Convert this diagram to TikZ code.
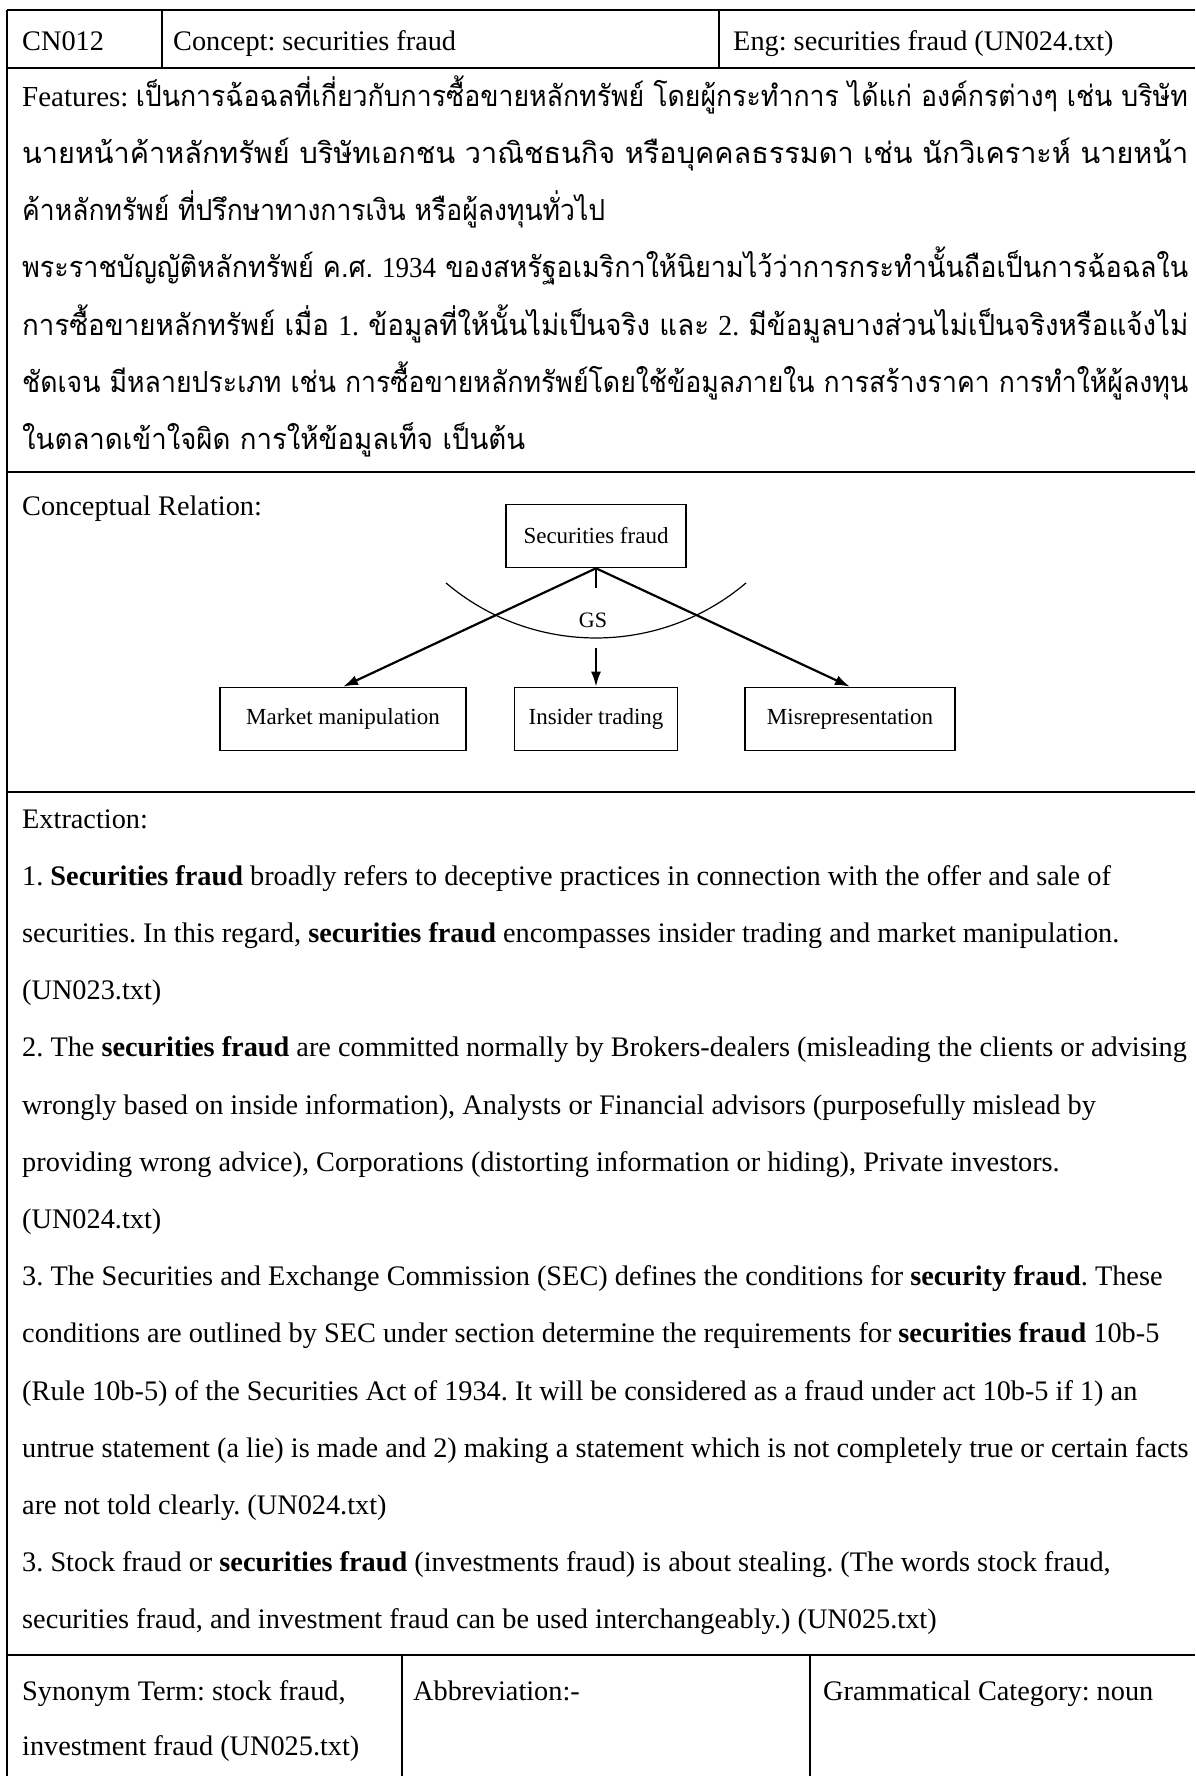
\documentclass[tikz,border=0pt]{standalone}
\usepackage{fontspec}
\usepackage{graphicx}
\setmainfont{Liberation Serif}
\newfontfamily\thaifont[Script=Thai]{Loma}
\usetikzlibrary{arrows.meta}
% stretch or squeeze one line of text to a given width, keeping its height
\newcommand\fitw[2]{\resizebox{#1}{\height}{#2}}
\newcommand\lat[1]{{\rmfamily #1}}
\frenchspacing
\begin{document}
\begin{tikzpicture}[x=1pt,y=-1pt,
  rule/.style={line width=2.6pt},
  txt/.style={anchor=base west, inner sep=0pt, font=\fontsize{28.3}{34}\selectfont},
  thai/.style={anchor=base west, inner sep=0pt, font=\fontsize{29}{34}\selectfont\thaifont},
  cbox/.style={draw, line width=1.6pt, minimum height=63pt, inner sep=0pt,
    font=\fontsize{23}{26}\selectfont},
  link/.style={line width=2.2pt, -{Latex[length=15pt,width=10pt]}},
  plain/.style={line width=2.2pt},
  gsarc/.style={line width=1.2pt},
]
\useasboundingbox (0,0) rectangle (1195,1776);
\fill[white] (0,0) rectangle (1195,1776);

% ---- table frame ----
\draw[rule] (7,10) -- (1195,10);
\draw[rule] (7,10) -- (7,1776);
\draw[rule] (7,68) -- (1195,68);
\draw[rule] (7,472) -- (1195,472);
\draw[rule] (7,792) -- (1195,792);
\draw[rule] (7,1655) -- (1195,1655);
\draw[rule] (162,10) -- (162,68);
\draw[rule] (719,10) -- (719,68);
\draw[rule] (402,1655) -- (402,1776);
\draw[rule] (810,1655) -- (810,1776);

% ---- header row ----
\node[txt] (id) at (22,51) {CN012};
\node[txt] (concept) at (173,51) {Concept: securities fraud};
\node[txt] (eng) at (733,51) {Eng: securities fraud (UN024.txt)};

% ---- features (Thai) ----
\node[thai] (f1) at (22,107) {\lat{Features: }\fitw{1052pt}{เป็นการฉ้อฉลที่เกี่ยวกับการซื้อขายหลักทรัพย์ โดยผู้กระทำการ ได้แก่ องค์กรต่างๆ เช่น บริษัท}};
\node[thai] (f2) at (22,164) {\fitw{1166pt}{นายหน้าค้าหลักทรัพย์ บริษัทเอกชน วาณิชธนกิจ หรือบุคคลธรรมดา เช่น นักวิเคราะห์ นายหน้า}};
\node[thai] (f3) at (22,221) {\fitw{583pt}{ค้าหลักทรัพย์ ที่ปรึกษาทางการเงิน หรือผู้ลงทุนทั่วไป}};
\node[thai] (f4) at (22,278) {\fitw{1166pt}{พระราชบัญญัติหลักทรัพย์ ค.ศ. \lat{1934} ของสหรัฐอเมริกาให้นิยามไว้ว่าการกระทำนั้นถือเป็นการฉ้อฉลใน}};
\node[thai] (f5) at (22,335) {\fitw{1166pt}{การซื้อขายหลักทรัพย์ เมื่อ \lat{1.} ข้อมูลที่ให้นั้นไม่เป็นจริง และ \lat{2.} มีข้อมูลบางส่วนไม่เป็นจริงหรือแจ้งไม่}};
\node[thai] (f6) at (22,392) {\fitw{1166pt}{ชัดเจน มีหลายประเภท เช่น การซื้อขายหลักทรัพย์โดยใช้ข้อมูลภายใน การสร้างราคา การทำให้ผู้ลงทุน}};
\node[thai] (f7) at (22,449) {\fitw{503pt}{ในตลาดเข้าใจผิด การให้ข้อมูลเท็จ เป็นต้น}};

% ---- conceptual relation ----
\node[txt] (crel) at (22,515) {Conceptual Relation:};
\node[cbox, minimum width=180pt] (sf) at (596,536) {Securities fraud};
\node[cbox, minimum width=246pt] (mm) at (343,719) {Market manipulation};
\node[cbox, minimum width=163pt] (it) at (596,719) {Insider trading};
\node[cbox, minimum width=210pt] (mr) at (850,719) {Misrepresentation};
\coordinate (arcc) at (596,406);
\coordinate (tick) at (596,588);
\coordinate (gsout) at (596,648);
\node[inner sep=0pt, font=\fontsize{22}{24}\selectfont] (gs) at (593,620) {GS};
\draw[gsarc] ([shift={(130.3:232)}]arcc) arc[start angle=130.3, end angle=49.7, radius=232];
\draw[link] (sf.south) -- (mm.north);
\draw[link] (sf.south) -- (mr.north);
\draw[plain] (sf.south) -- (tick);
\draw[link] (gsout) -- (it.north);

% ---- extraction ----
\begin{scope}[every node/.style={txt}]
\node (e0) at (22,828) {Extraction:};
\node (e1) at (22,885.2) {1. \textbf{Securities fraud} broadly refers to deceptive practices in connection with the offer and sale of};
\node (e2) at (22,942.4) {securities. In this regard, \textbf{securities fraud} encompasses insider trading and market manipulation.};
\node (e3) at (22,999.6) {(UN023.txt)};
\node (e4) at (22,1056.8) {2. The \textbf{securities fraud} are committed normally by Brokers-dealers (misleading the clients or advising};
\node (e5) at (22,1114) {wrongly based on inside information), Analysts or Financial advisors (purposefully mislead by};
\node (e6) at (22,1171.2) {providing wrong advice), Corporations (distorting information or hiding), Private investors.};
\node (e7) at (22,1228.4) {(UN024.txt)};
\node (e8) at (22,1285.6) {3. The Securities and Exchange Commission (SEC) defines the conditions for \textbf{security fraud}. These};
\node (e9) at (22,1342.8) {conditions are outlined by SEC under section determine the requirements for \textbf{securities fraud} 10b-5};
\node (e10) at (22,1400) {(Rule 10b-5) of the Securities Act of 1934. It will be considered as a fraud under act 10b-5 if 1) an};
\node (e11) at (22,1457.2) {untrue statement (a lie) is made and 2) making a statement which is not completely true or certain facts};
\node (e12) at (22,1514.4) {are not told clearly. (UN024.txt)};
\node (e13) at (22,1571.6) {3. Stock fraud or \textbf{securities fraud} (investments fraud) is about stealing. (The words stock fraud,};
\node (e14) at (22,1628.8) {securities fraud, and investment fraud can be used interchangeably.) (UN025.txt)};
\end{scope}

% ---- footer row ----
\node[txt] (syn1) at (22,1700) {Synonym Term: stock fraud,};
\node[txt] (syn2) at (22,1755) {investment fraud (UN025.txt)};
\node[txt] (abbr) at (413,1700) {Abbreviation:-};
\node[txt] (gram) at (823,1700) {Grammatical Category: noun};
\end{tikzpicture}
\end{document}
